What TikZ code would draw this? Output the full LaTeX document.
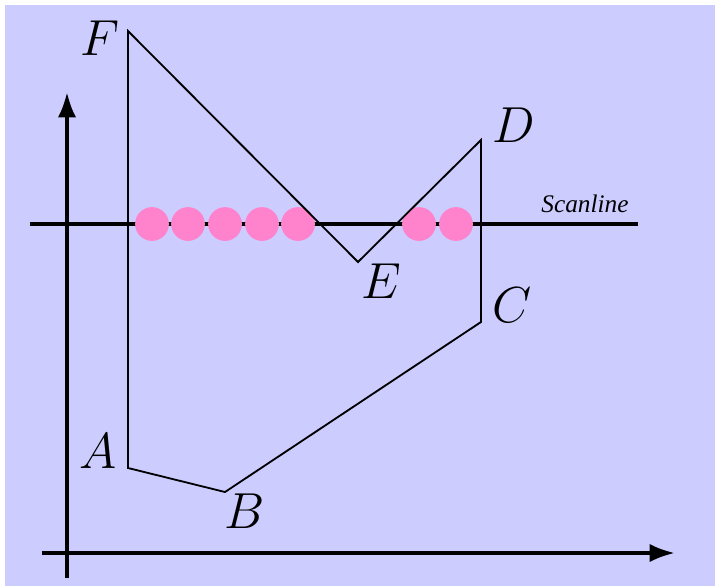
\documentclass[tikz,border=0pt]{standalone}
\usepackage{fontspec}
\newfontfamily\scanfont{Liberation Serif}
\usepackage{graphicx}
\usepackage{tikz}
\usetikzlibrary{arrows.meta,positioning,calc}

\definecolor{bgblue}{RGB}{204,204,255}
\definecolor{hitpink}{RGB}{255,130,204}
\newcommand{\vname}[1]{\scalebox{1.447}{$#1$}}

\begin{document}
\begin{tikzpicture}[
    x=0.025cm, y=-0.025cm,
    axis/.style={line width=2.8pt, -{Latex[length=18pt,width=13pt]}},
    scan/.style={line width=2.8pt},
    poly/.style={line width=1.3pt, line join=miter},
    hit/.style={circle, fill=hitpink, minimum size=24pt, inner sep=0pt},
    vlabel/.style={anchor=base, inner sep=0pt, font=\fontsize{24.88}{28}\selectfont}
]
\useasboundingbox (0,0) rectangle (715,586);
\fill[bgblue] (5,5) rectangle (715,586);

% axes
\coordinate (yb) at (67,578);
\coordinate (yt) at (67,92);
\coordinate (xl) at (42,553);
\coordinate (xr) at (675,553);
\draw[axis] (yb) -- (yt);
\draw[axis] (xl) -- (xr);

% scanline
\coordinate (sl) at (30,224);
\coordinate (sr) at (638,224);
\draw[scan] (sl) -- (sr);
\node[font=\scanfont\itshape\fontsize{18}{20}\selectfont] (scanlbl) at (585,204) {Scanline};

% pixels filled on the scanline
\foreach \x [count=\i] in {152,188,225,262,298,419,456}
    \node[hit] (h\i) at (\x,224) {};

% polygon
\coordinate (A) at (128,468);
\coordinate (B) at (225,492);
\coordinate (C) at (481,322);
\coordinate (D) at (481,140);
\coordinate (E) at (358,262);
\coordinate (F) at (128,31);
\draw[poly] (A) -- (B) -- (C) -- (D) -- (E) -- (F) -- cycle;

\node[vlabel] (lA) at (98,468) {\vname{A}};
\node[vlabel] (lB) at (245,528) {\vname{B}};
\node[vlabel] (lC) at (512,322) {\vname{C}};
\node[vlabel] (lD) at (514,142) {\vname{D}};
\node[vlabel] (lE) at (381,298) {\vname{E}};
\node[vlabel] (lF) at (100,55) {\vname{F}};
\end{tikzpicture}
\end{document}
